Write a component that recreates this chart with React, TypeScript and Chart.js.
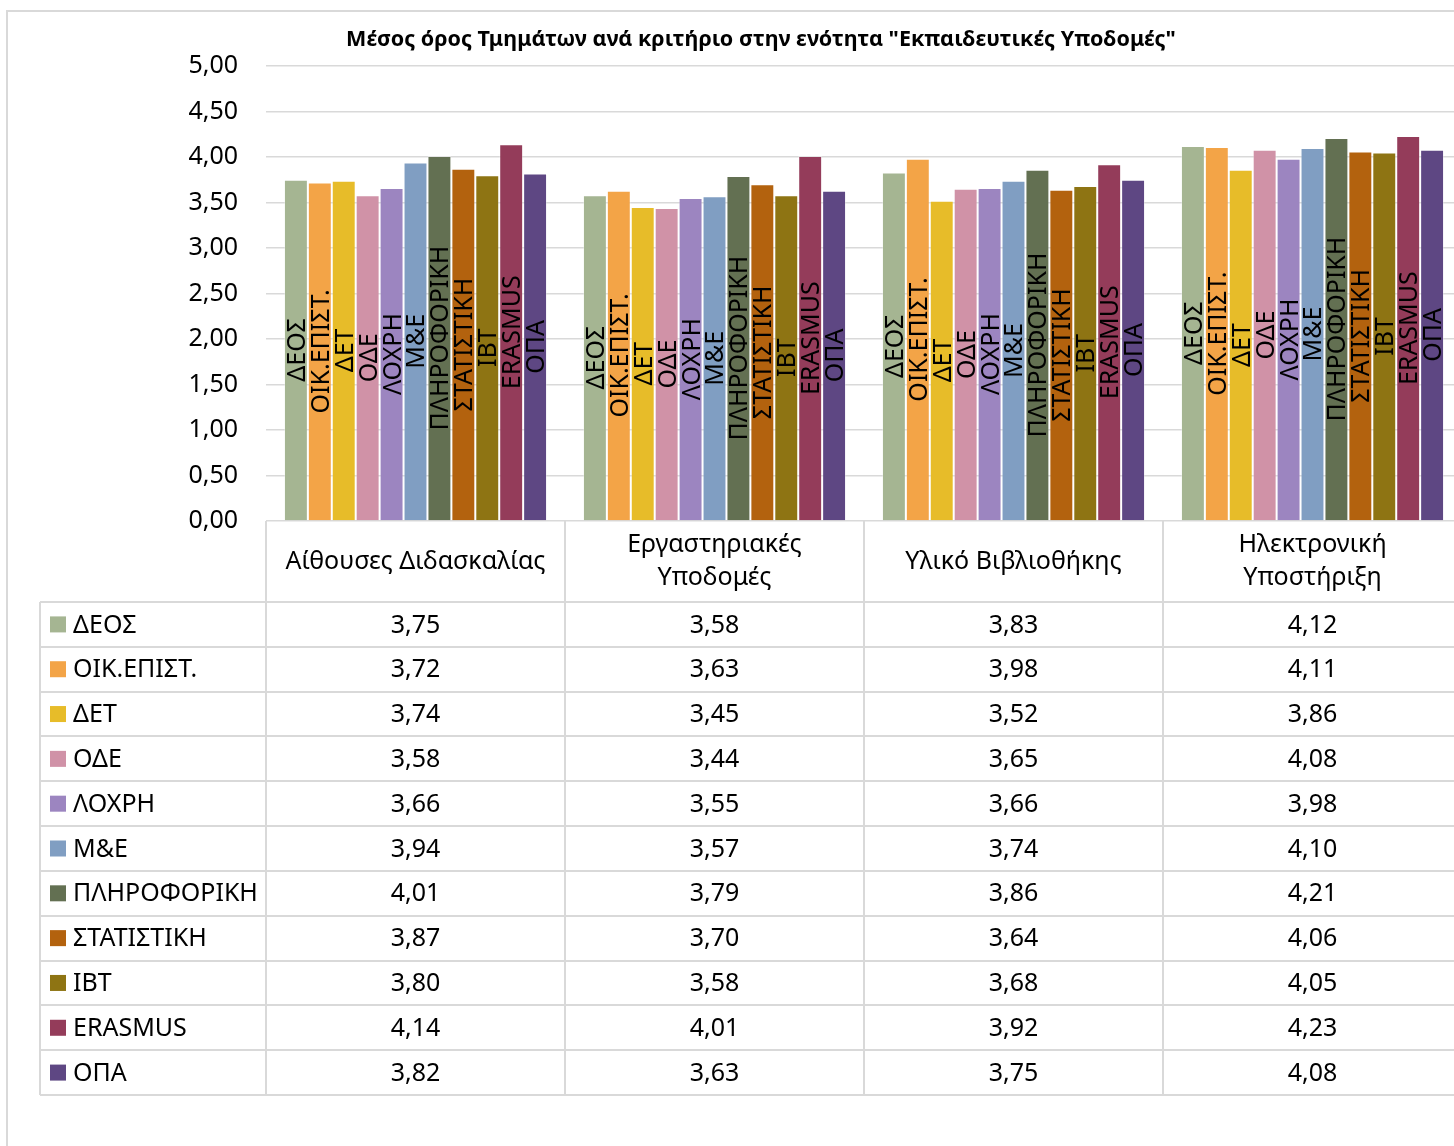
import React, { useEffect, useRef } from "react";
import { Chart, registerables } from "chart.js";

Chart.register(...registerables);

const TITLE = 'Μέσος όρος Τμημάτων ανά κριτήριο στην ενότητα "Εκπαιδευτικές Υποδομές"';

const categories = [
  "Αίθουσες Διδασκαλίας",
  "Εργαστηριακές Υποδομές",
  "Υλικό Βιβλιοθήκης",
  "Ηλεκτρονική Υποστήριξη",
];

const seriesNames = [
  "ΔΕΟΣ",
  "ΟΙΚ.ΕΠΙΣΤ.",
  "ΔΕΤ",
  "ΟΔΕ",
  "ΛΟΧΡΗ",
  "Μ&Ε",
  "ΠΛΗΡΟΦΟΡΙΚΗ",
  "ΣΤΑΤΙΣΤΙΚΗ",
  "ΙΒΤ",
  "ERASMUS",
  "ΟΠΑ",
];

const seriesColors = [
  "#A5B592",
  "#F3A447",
  "#E7BC29",
  "#D092A7",
  "#9C85C0",
  "#809EC2",
  "#637052",
  "#B3620E",
  "#8E7413",
  "#943C5A",
  "#5E4783",
];

const deos = [3.75, 3.58, 3.83, 4.12];
const oikEpist = [3.72, 3.63, 3.98, 4.11];
const det = [3.74, 3.45, 3.52, 3.86];
const ode = [3.58, 3.44, 3.65, 4.08];
const loxri = [3.66, 3.55, 3.66, 3.98];
const mE = [3.94, 3.57, 3.74, 4.1];
const pliroforiki = [4.01, 3.79, 3.86, 4.21];
const statistiki = [3.87, 3.7, 3.64, 4.06];
const ibt = [3.8, 3.58, 3.68, 4.05];
const erasmus = [4.14, 4.01, 3.92, 4.23];
const opa = [3.82, 3.63, 3.75, 4.08];

const seriesValues = [deos, oikEpist, det, ode, loxri, mE, pliroforiki, statistiki, ibt, erasmus, opa];

const yMin = 0;
const yMax = 5;
const yStep = 0.5;

const FONT = '"Noto Sans", sans-serif';
const FONT_SIZE = 25;
const GRID = "#d9d9d9";

const fmt = (v: number) => v.toFixed(2).replace(".", ",");

function wrapText(ctx: CanvasRenderingContext2D, text: string, maxW: number): string[] {
  const words = text.split(" ");
  const lines: string[] = [];
  let cur = "";
  for (const w of words) {
    const test = cur ? cur + " " + w : w;
    if (ctx.measureText(test).width > maxW && cur) {
      lines.push(cur);
      cur = w;
    } else {
      cur = test;
    }
  }
  if (cur) lines.push(cur);
  return lines;
}

const decorPlugin = {
  id: "decor",
  beforeDraw(chart: any) {
    const ctx: CanvasRenderingContext2D = chart.ctx;
    ctx.save();
    ctx.fillStyle = "#fff";
    ctx.fillRect(0, 0, chart.width, chart.height);
    ctx.strokeStyle = GRID;
    ctx.lineWidth = 2;
    ctx.strokeRect(7, 11, chart.width + 50, chart.height + 50);
    ctx.fillStyle = "#000";
    ctx.font = `bold 21.5px ${FONT}`;
    ctx.textAlign = "center";
    ctx.textBaseline = "middle";
    ctx.fillText(TITLE, 761, 40);
    ctx.restore();
  },
  afterDatasetsDraw(chart: any) {
    const ctx: CanvasRenderingContext2D = chart.ctx;
    ctx.save();
    ctx.font = `${FONT_SIZE}px ${FONT}`;
    ctx.fillStyle = "#000";
    ctx.textAlign = "center";
    ctx.textBaseline = "alphabetic";
    const capH = FONT_SIZE * 0.714;
    chart.data.datasets.forEach((ds: any, di: number) => {
      const meta = chart.getDatasetMeta(di);
      meta.data.forEach((el: any) => {
        const cy = (el.y + el.base) / 2;
        ctx.save();
        ctx.translate(el.x, cy);
        ctx.rotate(-Math.PI / 2);
        ctx.fillText(ds.label, 0, capH / 2);
        ctx.restore();
      });
    });
    ctx.restore();
  },
  afterDraw(chart: any) {
    const ctx: CanvasRenderingContext2D = chart.ctx;
    const { left, right, bottom } = chart.chartArea;
    const xs = chart.scales.x;
    const nCat = categories.length;
    const catW = (right - left) / nCat;
    const headerTop = bottom;
    const rowTop = 602;
    const tableBottom = 1095;
    const tableLeft = 40;
    const rowH = (tableBottom - rowTop) / seriesNames.length;
    ctx.save();
    ctx.strokeStyle = GRID;
    ctx.lineWidth = 2;
    ctx.beginPath();
    for (let r = 0; r <= seriesNames.length; r++) {
      const y = Math.round(rowTop + r * rowH);
      ctx.moveTo(tableLeft, y);
      ctx.lineTo(chart.width, y);
    }
    ctx.moveTo(tableLeft, rowTop);
    ctx.lineTo(tableLeft, tableBottom);
    for (let c = 0; c <= nCat; c++) {
      const x = Math.round(left + c * catW);
      ctx.moveTo(x, headerTop);
      ctx.lineTo(x, tableBottom);
    }
    ctx.stroke();

    ctx.fillStyle = "#000";
    ctx.font = `${FONT_SIZE}px ${FONT}`;
    ctx.textAlign = "center";
    ctx.textBaseline = "middle";
    const headMid = (headerTop + rowTop) / 2;
    const lineH = 33;
    categories.forEach((cat, i) => {
      const cx = xs.getPixelForValue(i);
      const lines = wrapText(ctx, cat, catW - 20);
      const start = headMid - ((lines.length - 1) * lineH) / 2;
      lines.forEach((ln, k) => ctx.fillText(ln, cx, start + k * lineH));
    });

    seriesNames.forEach((name, r) => {
      const cy = rowTop + (r + 0.5) * rowH;
      ctx.fillStyle = seriesColors[r];
      ctx.fillRect(50, cy - 8, 16, 16);
      ctx.fillStyle = "#000";
      ctx.textAlign = "left";
      ctx.fillText(name, 73, cy + 1);
      ctx.textAlign = "center";
      seriesValues[r].forEach((v, i) => {
        ctx.fillText(fmt(v), xs.getPixelForValue(i), cy + 1);
      });
    });
    ctx.restore();
  },
};

export default function App() {
  const ref = useRef<HTMLCanvasElement | null>(null);
  useEffect(() => {
    if (!ref.current) return;
    const chart = new Chart(ref.current, {
      type: "bar",
      data: {
        labels: categories,
        datasets: seriesNames.map((name, i) => ({
          label: name,
          data: seriesValues[i],
          backgroundColor: seriesColors[i],
          borderColor: "rgba(255,255,255,0.35)",
          borderWidth: 1,
          categoryPercentage: 0.88,
          barPercentage: 1,
        })),
      },
      options: {
        responsive: false,
        animation: false,
        devicePixelRatio: 1,
        layout: { padding: { left: 0, top: 66, right: 18, bottom: 625 } },
        plugins: {
          legend: { display: false },
          title: { display: false },
          tooltip: { enabled: false },
        },
        scales: {
          x: { display: false },
          y: {
            min: yMin,
            max: yMax,
            ticks: {
              stepSize: yStep,
              callback: (v: any) => fmt(Number(v)),
              font: { family: FONT, size: FONT_SIZE },
              color: "#000",
              padding: 28,
            },
            grid: { color: GRID, lineWidth: 1.5, drawTicks: false },
            border: { display: false },
            afterFit: (s: any) => {
              s.width = 266;
            },
          },
        },
      },
      plugins: [decorPlugin],
    });
    return () => chart.destroy();
  }, []);
  return (
    <div
      style={{
        position: "absolute",
        left: 0,
        top: 0,
        width: 1454,
        height: 1146,
        overflow: "hidden",
        background: "#fff",
      }}
    >
      <canvas ref={ref} width={1480} height={1146} style={{ width: 1480, height: 1146, display: "block" }} />
    </div>
  );
}
